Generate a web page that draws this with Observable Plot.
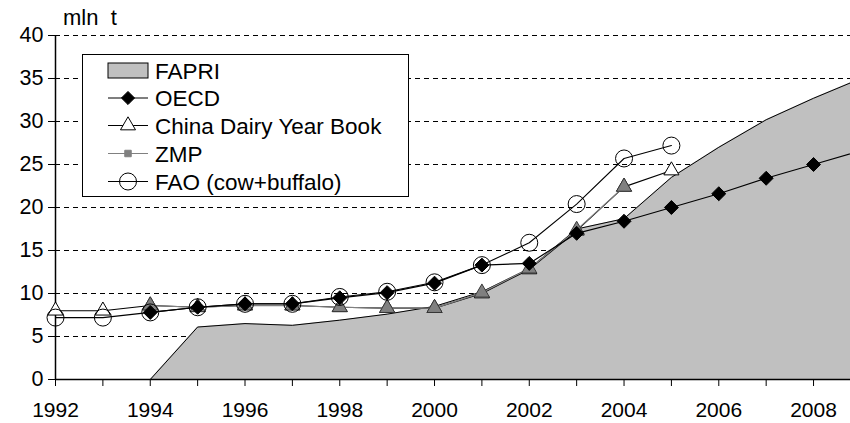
<!DOCTYPE html>
<html><head><meta charset="utf-8">
<script src="https://cdn.jsdelivr.net/npm/d3@7"></script>
<script src="https://cdn.jsdelivr.net/npm/@observablehq/plot@0.6"></script>
<style>
html,body{margin:0;padding:0;background:#fff;overflow:hidden;}
body{font-family:"Liberation Sans",Arial,sans-serif;}
#wrap{position:relative;width:850px;height:423px;}
#unit{position:absolute;left:63px;top:5px;font-size:22px;white-space:pre;line-height:1.15;}
#legend{position:absolute;left:82px;top:54px;}
</style></head><body>
<div id="wrap"></div>
<script>
// ---- data ----
const years = [1992,1993,1994,1995,1996,1997,1998,1999,2000,2001,2002,2003,2004,2005,2006,2007,2008,2009];
const fapri = [0,0,0,6.1,6.5,6.3,6.9,7.6,8.5,10.2,12.9,17.5,18.7,23.5,27.0,30.2,32.7,35.0];
const oecd  = [null,null,7.8,8.4,8.8,8.8,9.5,10.1,11.2,13.3,13.5,17.0,18.4,20.0,21.6,23.4,25.0,26.6];
const china = [8.0,8.0,8.6,8.4,8.6,8.6,8.4,8.3,8.3,10.0,12.8,17.3,22.4,24.3,null,null,null,null];
const zmp   = [null,null,8.6,8.4,8.6,8.6,8.4,8.3,8.3,10.1,12.9,17.4,22.4,null,null,null,null,null];
const fao   = [7.2,7.2,7.8,8.4,8.8,8.8,9.6,10.2,11.3,13.3,15.9,20.4,25.7,27.2,null,null,null,null];
const seriesNames = ["FAPRI","OECD","China Dairy Year Book","ZMP","FAO (cow+buffalo)"];
const yTicks = [0,5,10,15,20,25,30,35,40];
const xTicks = [1992,1993,1994,1995,1996,1997,1998,1999,2000,2001,2002,2003,2004,2005,2006,2007,2008];
const xLabels = [1992,1994,1996,1998,2000,2002,2004,2006,2008];
const unitLabel = "mln  t";

const toRows = vals => years.map((year,i)=>({year, v: vals[i]})).filter(d => d.v != null);
const F = toRows(fapri), O = toRows(oecd), C = toRows(china), Z = toRows(zmp), A = toRows(fao);

const plot = Plot.plot({
  width: 850, height: 423,
  marginLeft: 55, marginRight: 0, marginTop: 35, marginBottom: 44,
  style: {fontFamily: '"Liberation Sans", Arial, sans-serif', fontSize: "21px", color: "black", background: "white"},
  x: {domain: [1992, 2008.78], label: null},
  y: {domain: [0, 40], label: null},
  axis: null,
  marks: [
    Plot.gridY(yTicks.filter(d => d > 0), {stroke: "black", strokeOpacity: 1, strokeWidth: 1, strokeDasharray: "5,4"}),
    Plot.areaY(F, {x: "year", y: "v", fill: "#c0c0c0", clip: true}),
    Plot.lineY(F, {x: "year", y: "v", stroke: "black", strokeWidth: 1, clip: true}),
    Plot.ruleY([0], {stroke: "black", strokeWidth: 1.5}),
    Plot.ruleX([1992], {stroke: "black", strokeWidth: 1.5}),
    Plot.axisY({ticks: yTicks, tickSize: 7, tickPadding: 5, tickFormat: d3.format("d"), fontSize: 21.5, stroke: "black"}),
    Plot.axisX({ticks: xTicks, tickSize: 7, text: null, stroke: "black"}),
    Plot.axisX({ticks: xLabels, tickSize: 0, tickPadding: 23, tickFormat: d3.format("d"), fontSize: 21}),
    // China Dairy Year Book
    Plot.lineY(C, {x: "year", y: "v", stroke: "black", strokeWidth: 1.1}),
    Plot.dot(C, {x: "year", y: "v", symbol: "triangle", r: 5.6, fill: "white", stroke: "black", strokeWidth: 1}),
    // ZMP
    Plot.lineY(Z, {x: "year", y: "v", stroke: "#808080", strokeWidth: 1.2}),
    Plot.dot(Z, {x: "year", y: "v", symbol: "triangle", r: 5.6, fill: "#808080", stroke: "#333", strokeWidth: 0.8}),
    // OECD
    Plot.lineY(O, {x: "year", y: "v", stroke: "black", strokeWidth: 1.2, clip: true}),
    Plot.dot(O, {x: "year", y: "v", symbol: "diamond2", r: 6.3, fill: "black", stroke: "black", strokeWidth: 1, clip: true}),
    // FAO
    Plot.lineY(A, {x: "year", y: "v", stroke: "black", strokeWidth: 1.1}),
    Plot.dot(A, {x: "year", y: "v", symbol: "circle", r: 8.5, fill: "none", stroke: "black", strokeWidth: 1})
  ]
});
const wrap = document.getElementById("wrap");
wrap.appendChild(plot);

const unit = document.createElement("div");
unit.id = "unit"; unit.textContent = unitLabel;
wrap.appendChild(unit);

// legend
const lw = 327, lh = 143;
const lg = d3.create("svg").attr("id","legend").attr("width", lw).attr("height", lh)
  .style("font-family", '"Liberation Sans", Arial, sans-serif').style("font-size","22.5px");
lg.append("rect").attr("x",0.5).attr("y",0.5).attr("width",lw-1).attr("height",lh-1).attr("fill","white").attr("stroke","black");
const rowY = [16.5, 44, 71.5, 99.5, 127.5];
const sx0 = 26, sx1 = 66, scx = 46;
seriesNames.forEach((name,i)=>{
  const g = lg.append("g").attr("transform", `translate(0,${rowY[i]})`);
  if (i === 0) {
    g.append("rect").attr("x", sx0).attr("y", -7.5).attr("width", sx1 - sx0).attr("height", 15).attr("fill","#c0c0c0").attr("stroke","black");
  } else {
    const col = i === 3 ? "#808080" : "black";
    g.append("line").attr("x1", sx0).attr("x2", sx1).attr("stroke", col).attr("stroke-width", 1.1);
    let path, fill, stroke = "black";
    if (i === 1) { path = d3.symbol(d3.symbolDiamond2, 110)(); fill = "black"; }
    if (i === 2) { path = d3.symbol(d3.symbolTriangle, 98)(); fill = "white"; }
    if (i === 3) { path = d3.symbol(d3.symbolSquare, 42)(); fill = "#808080"; stroke = "#808080"; }
    if (i === 4) { path = d3.symbol(d3.symbolCircle, Math.PI*8.5*8.5)(); fill = "none"; }
    g.append("path").attr("d", path).attr("transform", `translate(${scx},0)`).attr("fill", fill).attr("stroke", stroke);
  }
  g.append("text").attr("x", 73).attr("y", 0).attr("dy", "0.36em").attr("fill","black").text(name);
});
wrap.appendChild(lg.node());
</script>
</body></html>
